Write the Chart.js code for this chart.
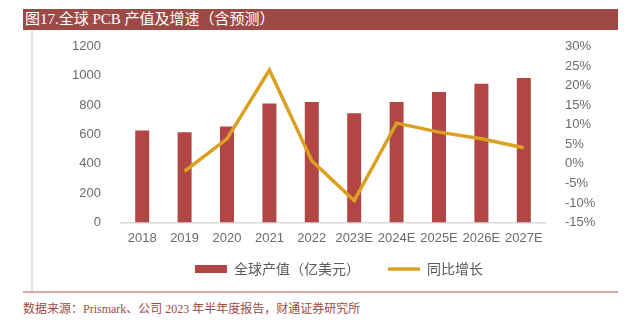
<!DOCTYPE html>
<html>
<head>
<meta charset="utf-8">
<script src="https://cdn.jsdelivr.net/npm/chart.js@4"></script>
<style>
  html, body { margin: 0; padding: 0; background: #fff; }
  body { width: 639px; height: 323px; position: relative; overflow: hidden; }
  .title {
    position: absolute; left: 23px; top: 9px; width: 595px; height: 21px;
    background: #9d4a46; color: #fff;
    font: 15px "Liberation Serif", "Noto Sans CJK SC", serif;
    line-height: 21px; padding-left: 2px; box-sizing: border-box;
  }
  .frame {
    position: absolute; left: 31px; top: 31px; width: 0; height: 261px;
    border-left: 2px solid #e4e4e4;
  }
  .foot-line {
    position: absolute; left: 23px; top: 291px; width: 595px; height: 0;
    border-top: 2px solid #dba6a4;
  }
  .source {
    position: absolute; left: 23px; top: 299px;
    color: #9d4a46; font: 12px "Liberation Serif", "Noto Sans CJK SC", serif;
  }
  .wrap { position: absolute; left: 0; top: 0; width: 639px; height: 323px; }
</style>
</head>
<body>
<div class="title">图17.全球 PCB 产值及增速（含预测）</div>
<div class="frame"></div>
<div class="foot-line"></div>
<div class="source">数据来源：Prismark、公司 2023 年半年度报告，财通证券研究所</div>
<div class="wrap"><canvas id="chart"></canvas></div>

<script>
const years = ['2018', '2019', '2020', '2021', '2022', '2023E', '2024E', '2025E', '2026E', '2027E'];
// 全球产值，亿美元
const output = [627, 615, 654, 811, 821, 745, 821, 889, 946, 986];
// 同比增长，%
const growth = [null, -1.9, 6.4, 24.0, 0.8, -9.4, 10.4, 8.1, 6.4, 4.1];

const barColor = '#b24644';
const lineColor = '#dba022';
const tickColor = '#6b6b6b';
const tickFont = { family: "'Liberation Sans', 'Noto Sans CJK SC', sans-serif", size: 13 };

// pull the legend a bit closer to the x axis labels
const legendLift = {
  id: 'legendLift',
  afterLayout(chart) {
    chart.legend.top -= 12.5;
    chart.legend.bottom -= 12.5;
  }
};

const ctx = document.querySelector('#chart').getContext('2d');

new Chart(ctx, {
  type: 'bar',
  data: {
    labels: years,
    datasets: [
      {
        label: '全球产值（亿美元）',
        data: output,
        backgroundColor: barColor,
        borderWidth: 0,
        barPercentage: 0.33,
        categoryPercentage: 1,
        yAxisID: 'y',
        order: 2
      },
      {
        type: 'line',
        label: '同比增长',
        data: growth,
        borderColor: lineColor,
        backgroundColor: lineColor,
        borderWidth: 3.5,
        pointRadius: 0,
        tension: 0,
        yAxisID: 'y1',
        order: 1
      }
    ]
  },
  plugins: [legendLift],
  options: {
    responsive: true,
    maintainAspectRatio: false,
    animation: false,
    layout: { padding: { top: 46.5, left: 39, right: 0, bottom: 24.5 } },
    plugins: {
      legend: {
        position: 'bottom',
        labels: {
          color: '#595959',
          font: { family: "'Noto Sans CJK SC', sans-serif", size: 14 },
          usePointStyle: true,
          pointStyleWidth: 32,
          boxHeight: 8,
          padding: 28,
          // bars first, then the line, each with its own marker
          generateLabels(chart) {
            const items = Chart.defaults.plugins.legend.labels.generateLabels(chart);
            items.sort((a, b) => a.datasetIndex - b.datasetIndex);
            items.forEach(it => {
              const isBar = it.datasetIndex === 0;
              it.pointStyle = isBar ? 'rect' : 'line';
              it.lineWidth = isBar ? 0 : 3.5;
            });
            return items;
          }
        }
      },
      tooltip: { enabled: false }
    },
    scales: {
      x: {
        grid: { display: false },
        border: { display: true, color: '#d9d9d9', width: 1.5 },
        ticks: { color: tickColor, font: tickFont, padding: 0, maxRotation: 0, autoSkip: false },
        afterFit(s) { s.height = 24; }
      },
      y: {
        position: 'left',
        min: 0,
        max: 1200,
        grid: { display: false },
        border: { display: false },
        ticks: { stepSize: 200, color: tickColor, font: tickFont, padding: 12, callback: v => String(v) },
        afterFit(s) { s.width = 82; }
      },
      y1: {
        position: 'right',
        min: -15,
        max: 30,
        grid: { display: false },
        border: { display: false },
        ticks: {
          stepSize: 5,
          color: tickColor,
          font: tickFont,
          padding: 12,
          callback: v => v + '%'
        },
        afterFit(s) { s.width = 94; }
      }
    }
  }
});
</script>
</body>
</html>
